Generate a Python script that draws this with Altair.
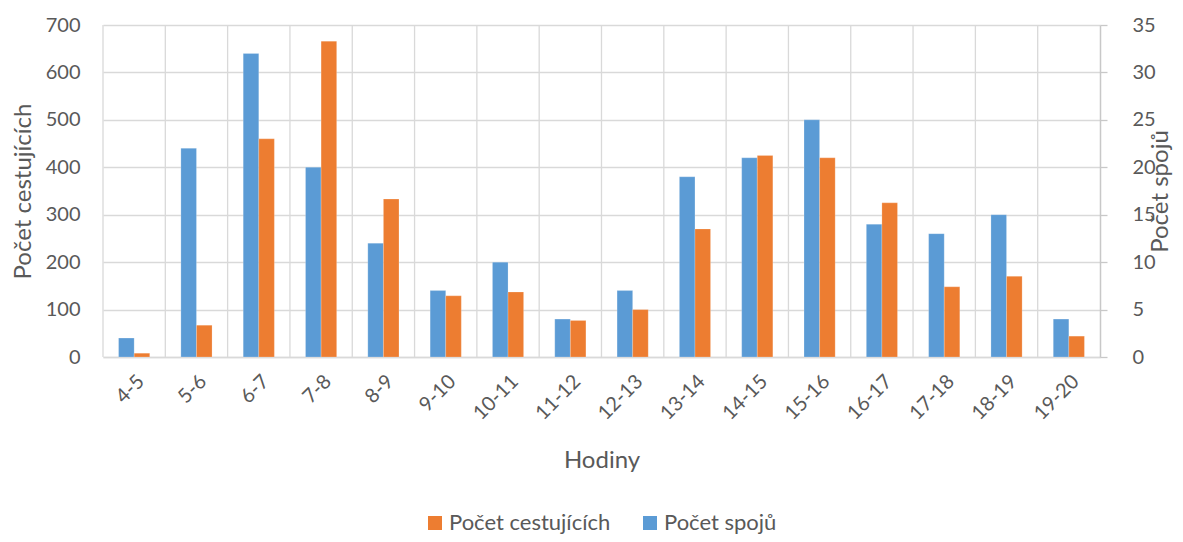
import altair as alt
import pandas as pd

hours = ["4-5", "5-6", "6-7", "7-8", "8-9", "9-10", "10-11", "11-12",
         "12-13", "13-14", "14-15", "15-16", "16-17", "17-18", "18-19", "19-20"]
spoju = [2, 22, 32, 20, 12, 7, 10, 4, 7, 19, 21, 25, 14, 13, 15, 4]
cestujicich = [8, 67, 460, 666, 333, 129, 137, 77, 100, 270, 425, 420, 325, 148, 170, 44]

S_NAME = "Počet spojů"
C_NAME = "Počet cestujících"
BLUE = "#5B9BD5"
ORANGE = "#ED7D31"
TXT = "#595959"
GRID = "#D9D9D9"
FONT = "Lato"

df_s = pd.DataFrame({"hod": hours, "val": spoju, "ser": S_NAME})
df_c = pd.DataFrame({"hod": hours, "val": cestujicich, "ser": C_NAME})
df_g = pd.DataFrame({"hod": hours})

W, H = 997, 332

xscale = alt.Scale(domain=hours, paddingInner=0, paddingOuter=0)
xoff_scale = alt.Scale(domain=[S_NAME, C_NAME], paddingInner=0, paddingOuter=1)
color_scale = alt.Scale(domain=[C_NAME, S_NAME], range=[ORANGE, BLUE])

x_axis = alt.Axis(
    title="Hodiny", labelAngle=-45, labelFontSize=20, labelColor=TXT, labelFont=FONT,
    labelPadding=14, ticks=False, tickSize=0, grid=False,
    domainColor=GRID, domainWidth=1.5,
    titleFontSize=24, titleFont=FONT, titleColor=TXT, titleFontWeight="normal",
    titleX=W / 2, titleY=103, titleBaseline="middle",
)

vgrid = alt.Chart(df_g).mark_rule(color=GRID, strokeWidth=1.3).encode(
    x=alt.X("hod:N", scale=xscale, bandPosition=0, axis=x_axis, sort=hours),
    y=alt.value(0),
    y2=alt.value(H),
)

bars_s = alt.Chart(df_s).mark_bar(stroke="white", strokeWidth=0.4, strokeOpacity=0.5).encode(
    x=alt.X("hod:N", scale=xscale, sort=hours, axis=x_axis),
    xOffset=alt.XOffset("ser:N", scale=xoff_scale),
    y=alt.Y("val:Q", scale=alt.Scale(domain=[0, 35], nice=False),
            axis=alt.Axis(orient="right", title=S_NAME, values=list(range(0, 36, 5)),
                          grid=False, domain=True, domainColor="#C8C8C8", domainWidth=1.5,
                          ticks=True, tickSize=7, tickColor="#C8C8C8", tickWidth=1.3,
                          labelFontSize=20, labelColor=TXT, labelFont=FONT, labelPadding=25,
                          titleFontSize=24, titleFont=FONT, titleColor=TXT,
                          titleFontWeight="normal", titleAngle=270,
                          titleX=60, titleY=H / 2, titleBaseline="middle", titleAlign="center")),
    color=alt.Color("ser:N", scale=color_scale, title=None),
)

bars_c = alt.Chart(df_c).mark_bar(stroke="white", strokeWidth=0.4, strokeOpacity=0.5).encode(
    x=alt.X("hod:N", scale=xscale, sort=hours, axis=x_axis),
    xOffset=alt.XOffset("ser:N", scale=xoff_scale),
    y=alt.Y("val:Q", scale=alt.Scale(domain=[0, 700], nice=False),
            axis=alt.Axis(orient="left", title=C_NAME, values=list(range(0, 701, 100)),
                          grid=True, gridColor=GRID, gridWidth=1.3,
                          domain=False, ticks=False, tickSize=0,
                          labelFontSize=20, labelColor=TXT, labelFont=FONT, labelPadding=23,
                          titleFontSize=24, titleFont=FONT, titleColor=TXT,
                          titleFontWeight="normal", titleAngle=270,
                          titleX=-80, titleY=H / 2, titleBaseline="middle", titleAlign="center")),
    color=alt.Color("ser:N", scale=color_scale, title=None),
)

chart = alt.layer(vgrid, bars_s, bars_c).resolve_scale(
    y="independent"
).properties(
    width=W, height=H,
    autosize=alt.AutoSizeParams(type="none"),
    padding={"left": 95, "top": 17, "right": 75, "bottom": 177},
).configure_view(
    stroke=None
).configure_legend(
    orient="none", legendX=321, legendY=487, direction="horizontal",
    symbolType="square", symbolSize=196, symbolStrokeWidth=0,
    labelFontSize=22, labelFont=FONT, labelColor=TXT, labelOffset=3, labelLimit=400,
    columnPadding=28, padding=0, symbolOpacity=1,
)

chart.save("out.html", embed_options={"renderer": "svg", "actions": False})
